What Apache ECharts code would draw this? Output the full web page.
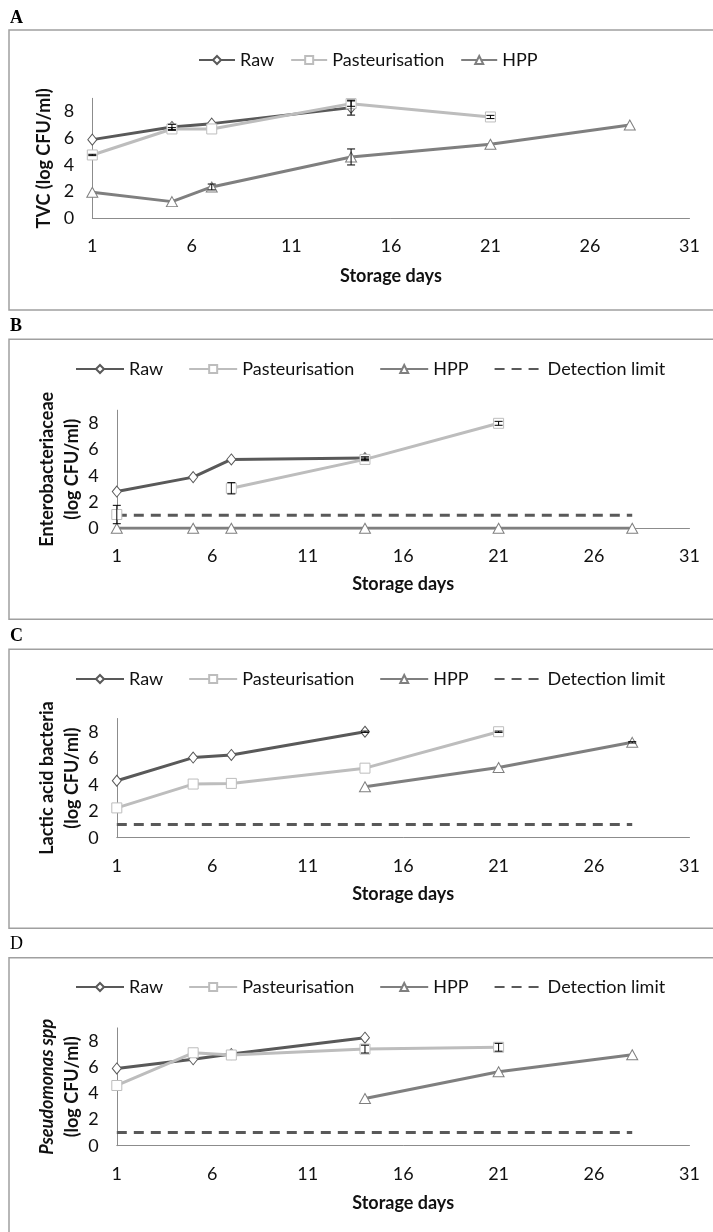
<!DOCTYPE html>
<html>
<head>
<meta charset="utf-8">
<script src="https://cdn.jsdelivr.net/npm/echarts@6/dist/echarts.min.js"></script>
<style>
html,body{margin:0;padding:0;background:#fff;}
#chart{width:713px;height:1232px;}
</style>
</head>
<body>
<div id="chart"></div>
<script>
// ---------- data ----------
const days = [1, 5, 7, 14, 21, 28];
const xTicks = [1, 6, 11, 16, 21, 26, 31];
const seriesNames = ['Raw', 'Pasteurisation', 'HPP', 'Detection limit'];

// A: TVC
const tvcRaw  = [5.9, 6.85, 7.1, 8.3, null, null];
const tvcPast = [4.75, 6.7, 6.7, 8.6, 7.6, null];
const tvcHpp  = [1.95, 1.25, 2.35, 4.6, 5.55, 7.0];
const tvcRawErr  = [0, 0.2, 0, 0.56, 0, 0];
const tvcPastErr = [0.05, 0.1, 0, 0.2, 0.12, 0];
const tvcHppErr  = [0, 0, 0.22, 0.6, 0, 0];

// B: Enterobacteriaceae
const entRaw  = [2.8, 3.9, 5.25, 5.35, null, null];
const entPast = [1.05, null, 3.05, 5.25, 8.0, null];
const entHpp  = [0, 0, 0, 0, 0, 0];
const entRawErr  = [0, 0, 0, 0.1, 0, 0];
const entPastErr = [0.7, 0, 0.43, 0.1, 0.15, 0];
const entHppErr  = [0, 0, 0, 0, 0, 0];

// C: Lactic acid bacteria
const labRaw  = [4.3, 6.05, 6.25, 8.0, null, null];
const labPast = [2.25, 4.05, 4.1, 5.25, 8.0, null];
const labHpp  = [null, null, null, 3.85, 5.3, 7.2];
const labRawErr  = [0, 0, 0, 0.05, 0, 0];
const labPastErr = [0, 0, 0, 0, 0.05, 0];
const labHppErr  = [0, 0, 0, 0, 0, 0.05];

// D: Pseudomonas spp
const psRaw  = [5.9, 6.6, 7.0, 8.25, null, null];
const psPast = [4.6, 7.1, 6.93, 7.38, 7.52, null];
const psHpp  = [null, null, null, 3.6, 5.65, 6.95];
const psRawErr  = [0, 0, 0, 0, 0, 0];
const psPastErr = [0, 0, 0, 0.3, 0.3, 0];
const psHppErr  = [0, 0, 0, 0, 0, 0];

// detection limit
const detDays = [1, 28];
const detLimit = 1;

const panelLetters = ['A', 'B', 'C', 'D'];

// ---------- styling ----------
const FONT = 'Lato, "Open Sans", sans-serif';
const SERIF = '"Liberation Serif", "DejaVu Serif", serif';
const C_RAW = '#595959', C_PAST = '#BDBDBD', C_HPP = '#7F7F7F', C_DET = '#595959';
const AXIS_C = '#8C8C8C';

const panels = [
  {raw: tvcRaw, past: tvcPast, hpp: tvcHpp, errs: [tvcRawErr, tvcPastErr, tvcHppErr], det: false,
   yName: 'TVC (log CFU/ml)', grid: {left: 92.3, top: 98.3, height: 120}, yGap: 36, xGap: 49,
   legend: {left: 193, top: 46, itemWidth: 36, itemGap: 16}},
  {raw: entRaw, past: entPast, hpp: entHpp, errs: [entRawErr, entPastErr, entHppErr], det: true,
   yName: 'Enterobacteriaceae\n(log CFU/ml)', grid: {left: 116.8, top: 410.2, height: 118.1}, yGap: 32, xGap: 46.5,
   legend: {left: 70, top: 355, itemWidth: 48, itemGap: 25}},
  {raw: labRaw, past: labPast, hpp: labHpp, errs: [labRawErr, labPastErr, labHppErr], det: true,
   yName: 'Lactic acid bacteria\n(log CFU/ml)', grid: {left: 116.8, top: 718.5, height: 119.2}, yGap: 32, xGap: 47,
   legend: {left: 70, top: 665, itemWidth: 48, itemGap: 25}},
  {raw: psRaw, past: psPast, hpp: psHpp, errs: [psRawErr, psPastErr, psHppErr], det: true,
   yName: '{it|Pseudomonas spp}\n(log CFU/ml)', grid: {left: 116.8, top: 1027.9, height: 117.8}, yGap: 32, xGap: 48.5,
   legend: {left: 70, top: 973, itemWidth: 48, itemGap: 25}}
];

const boxes = [
  {y: 30, h: 280, ly: 18.5, bold: true},
  {y: 339.3, h: 280, ly: 326.7, bold: true},
  {y: 649.3, h: 279, ly: 636.7, bold: true},
  {y: 957.7, h: 290, ly: 944.3, bold: false}
];

function pairs(vals) { return days.map((d, i) => [d, vals[i]]); }
function errData(vals, errs) {
  const out = [];
  days.forEach((d, i) => { if (vals[i] != null && errs[i]) out.push([d, vals[i], errs[i]]); });
  return out;
}
function errRender(params, api) {
  const x = api.value(0), y = api.value(1), e = api.value(2);
  const hi = api.coord([x, y + e]), lo = api.coord([x, y - e]);
  const w = 4, st = {stroke: '#000', lineWidth: 1};
  return {type: 'group', children: [
    {type: 'line', shape: {x1: hi[0], y1: hi[1], x2: lo[0], y2: lo[1]}, style: st},
    {type: 'line', shape: {x1: hi[0] - w, y1: hi[1], x2: hi[0] + w, y2: hi[1]}, style: st},
    {type: 'line', shape: {x1: lo[0] - w, y1: lo[1], x2: lo[0] + w, y2: lo[1]}, style: st}
  ]};
}

const grid = [], xAxis = [], yAxis = [], series = [], legend = [], graphic = [];

panels.forEach((p, gi) => {
  grid.push({left: p.grid.left, right: 23.5, top: p.grid.top, height: p.grid.height, containLabel: false});
  xAxis.push({
    type: 'value', gridIndex: gi, min: xTicks[0], max: xTicks[xTicks.length - 1], interval: xTicks[1] - xTicks[0],
    name: 'Storage days', nameLocation: 'middle', nameGap: p.xGap,
    nameTextStyle: {fontFamily: FONT, fontSize: 18, fontWeight: 'bold', color: '#111'},
    axisLine: {show: true, onZero: false, lineStyle: {color: AXIS_C, width: 1}},
    axisTick: {show: false}, splitLine: {show: false},
    axisLabel: {fontFamily: FONT, fontSize: 18, color: '#111', margin: 19}
  });
  yAxis.push({
    type: 'value', gridIndex: gi, min: 0, max: 9, interval: 2,
    name: p.yName, nameLocation: 'middle', nameGap: p.yGap, nameRotate: 90, nameMoveOverlap: false,
    nameTextStyle: {fontFamily: FONT, fontSize: 18, fontWeight: 'bold', color: '#111', lineHeight: 25,
      rich: {it: {fontFamily: FONT, fontSize: 18, fontWeight: 'bold', fontStyle: 'italic', color: '#111', lineHeight: 25}}},
    axisLine: {show: true, lineStyle: {color: AXIS_C, width: 1}},
    axisTick: {show: false}, splitLine: {show: false},
    axisLabel: {fontFamily: FONT, fontSize: 18, color: '#111', margin: 18, showMaxLabel: false,
      formatter: v => (v % 2 === 0 ? String(v) : '')}
  });
  const mk = (name, vals, color, symbol, size) => ({
    name, type: 'line', xAxisIndex: gi, yAxisIndex: gi, data: pairs(vals),
    symbol, symbolSize: size, showAllSymbol: true, connectNulls: false,
    lineStyle: {color, width: 3}, itemStyle: {color: '#fff', borderColor: color, borderWidth: 1},
    emphasis: {disabled: true}, z: 2, animation: false
  });
  series.push(mk('Raw', p.raw, C_RAW, 'diamond', [9, 11]));
  series.push(mk('Pasteurisation', p.past, C_PAST, 'rect', 10));
  series.push(mk('HPP', p.hpp, C_HPP, 'triangle', [11, 10]));
  if (p.det) {
    series.push({
      name: 'Detection limit', type: 'line', xAxisIndex: gi, yAxisIndex: gi,
      data: detDays.map(d => [d, detLimit]), symbol: 'none',
      lineStyle: {color: C_DET, width: 3, type: [10, 7]},
      itemStyle: {color: 'rgba(0,0,0,0)', borderColor: 'rgba(0,0,0,0)', borderWidth: 0, opacity: 0},
      emphasis: {disabled: true}, z: 1, animation: false
    });
  }
  [p.raw, p.past, p.hpp].forEach((vals, k) => {
    const d = errData(vals, p.errs[k]);
    if (d.length) series.push({
      name: 'err', type: 'custom', xAxisIndex: gi, yAxisIndex: gi, data: d,
      encode: {x: 0, y: 1}, renderItem: errRender, z: 5, animation: false, silent: true
    });
  });
  const names = p.det ? seriesNames : seriesNames.slice(0, 3);
  legend.push({
    data: names.map(n => n === 'Detection limit'
      ? {name: n, itemStyle: {opacity: 0, color: 'rgba(0,0,0,0)', borderWidth: 0}}
      : {name: n}),
    left: p.legend.left, top: p.legend.top, itemWidth: p.legend.itemWidth, itemHeight: 10, itemGap: p.legend.itemGap,
    textStyle: {fontFamily: FONT, fontSize: 18, color: '#111', padding: [0, 0, 0, 0]},
    selectedMode: false
  });
  const b = boxes[gi];
  graphic.push({type: 'rect', shape: {x: 9, y: b.y, width: 720, height: b.h},
    style: {fill: 'none', stroke: '#A0A0A0', lineWidth: 1.5}, silent: true});
  graphic.push({type: 'text', x: 10, y: b.ly,
    style: {text: panelLetters[gi], font: (b.bold ? 'bold ' : '') + '18px ' + SERIF, fill: '#000', verticalAlign: 'middle'}});
});

const chart = echarts.init(document.getElementById('chart'), null, {renderer: 'canvas'});
chart.setOption({
  animation: false, backgroundColor: '#fff',
  grid, xAxis, yAxis, series, legend, graphic
});
</script>
</body>
</html>
